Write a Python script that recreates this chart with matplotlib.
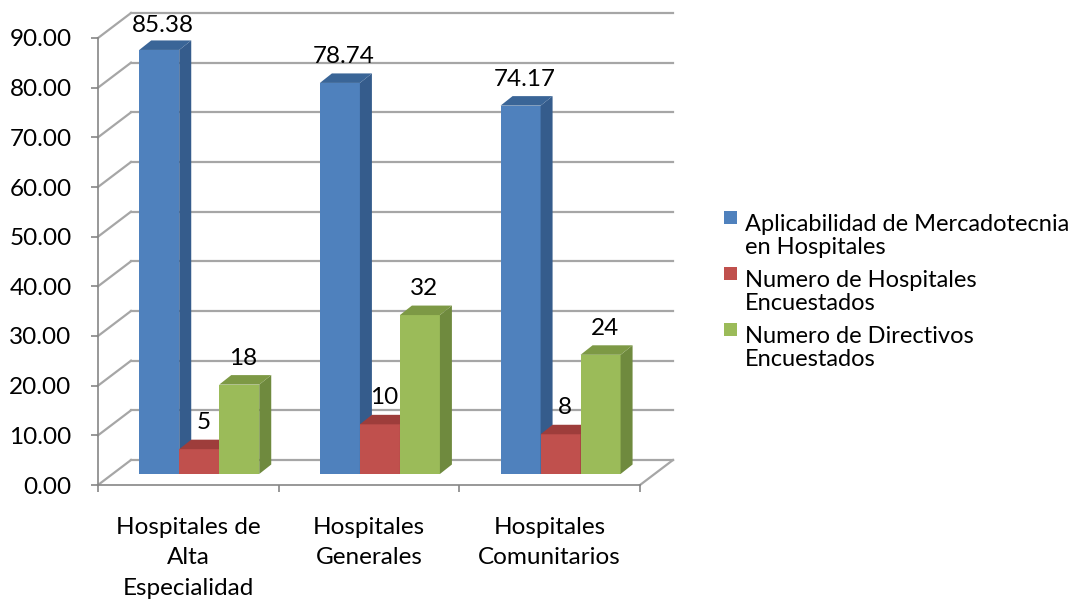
import matplotlib.pyplot as plt
from matplotlib.patches import Polygon, Rectangle
import numpy as np

plt.rcParams['font.family'] = ['Lato', 'DejaVu Sans']

categories = ['Hospitales de\nAlta\nEspecialidad', 'Hospitales\nGenerales', 'Hospitales\nComunitarios']
series_names = ['Aplicabilidad de Mercadotecnia\nen Hospitales',
                'Numero de Hospitales\nEncuestados',
                'Numero de Directivos\nEncuestados']
aplicabilidad = [85.38, 78.74, 74.17]
num_hospitales = [5, 10, 8]
num_directivos = [18, 32, 24]
value_labels = [['85.38', '78.74', '74.17'], ['5', '10', '8'], ['18', '32', '24']]
yticks = np.arange(0, 91, 10)

series = [aplicabilidad, num_hospitales, num_directivos]
# front / side / top shades
colors = [('#4F81BD', '#355C8C', '#3A6597'),
          ('#C0504D', '#8E3A38', '#9E3D3B'),
          ('#9BBB59', '#6F8A3E', '#7D9945')]

FS = 17.5
W, H = 1082, 601
fig = plt.figure(figsize=(W / 100, H / 100), dpi=100)
# axes = front plane of the 3d box
x0, x1, y0, y1 = 98, 640, 485, 38
ax = fig.add_axes([x0 / W, 1 - y0 / H, (x1 - x0) / W, (y0 - y1) / H])
ax.set_xlim(0, 3)
ax.set_ylim(0, 90)

px_x = (x1 - x0) / 3.0
px_y = (y0 - y1) / 90.0
DX, DY = 33 / px_x, 25 / px_y          # wall depth
BX, BY = 12 / px_x, 9.5 / px_y         # bar depth
f = 0.44                               # bar front plane depth fraction
OX, OY = f * DX, f * DY
LBL_OFF = 17 / px_y                    # label offset above bar top
LBL_MAX = 92.5                         # labels are kept inside the plot area
grid_c = '#A6A6A6'

# back wall + side wall gridlines
for v in yticks:
    ax.plot([DX, 3 + DX], [v + DY, v + DY], color=grid_c, lw=1.6, clip_on=False, zorder=1)
    ax.plot([0, DX], [v, v + DY], color=grid_c, lw=1.6, clip_on=False, zorder=1)
ax.plot([3, 3 + DX], [0, DY], color=grid_c, lw=1.6, clip_on=False, zorder=1)

# bars
w = 0.2214
for k, vals in enumerate(series):
    front, side, top = colors[k]
    for i, v in enumerate(vals):
        xl = i + 0.5 - 1.5 * w + k * w + OX - 0.02
        xr = xl + w
        top_y = OY + v
        ax.bar(xl, v, width=w, bottom=OY, align='edge', color=front, zorder=3, clip_on=False)
        ax.add_patch(Polygon([(xr, OY), (xr + BX, OY + BY), (xr + BX, top_y + BY), (xr, top_y)],
                             closed=True, facecolor=side, edgecolor='none', zorder=3, clip_on=False))
        ax.add_patch(Polygon([(xl, top_y), (xl + BX, top_y + BY), (xr + BX, top_y + BY), (xr, top_y)],
                             closed=True, facecolor=top, edgecolor='none', zorder=3, clip_on=False))
        ly = min(top_y + BY + LBL_OFF, LBL_MAX)
        ax.text(xl + w / 2 + BX / 3, ly, value_labels[k][i], ha='center', va='center',
                fontsize=FS, color='black', zorder=5, clip_on=False)

# axes lines and ticks
for s in ['top', 'right']:
    ax.spines[s].set_visible(False)
for s in ['left', 'bottom']:
    ax.spines[s].set_color('#868686')
    ax.spines[s].set_linewidth(1.2)
ax.set_yticks(yticks)
ax.set_yticklabels(['%.2f' % t for t in yticks])
ax.tick_params(axis='y', direction='out', length=5, width=1.2, color='#868686',
               labelsize=FS, pad=14)
ax.set_xticks([0, 1, 2, 3], minor=True)
ax.set_xticks([0.5, 1.5, 2.5])
ax.set_xticklabels(categories, linespacing=1.55)
ax.tick_params(axis='x', which='major', length=0, labelsize=FS, pad=23)
ax.tick_params(axis='x', which='minor', direction='out', length=5, width=1.2, color='#868686')
ax.patch.set_visible(False)

# legend
leg_y = [211, 267, 323]
for k, name in enumerate(series_names):
    fig.add_artist(Rectangle((724 / W, 1 - (leg_y[k] + 13) / H), 13 / W, 13 / H,
                             transform=fig.transFigure, facecolor=colors[k][0], edgecolor='none'))
    fig.text(745 / W, 1 - (leg_y[k] + 3) / H, name, fontsize=FS - 0.5, va='top', ha='left',
             linespacing=1.12)

fig.savefig('out.png', dpi=100)
